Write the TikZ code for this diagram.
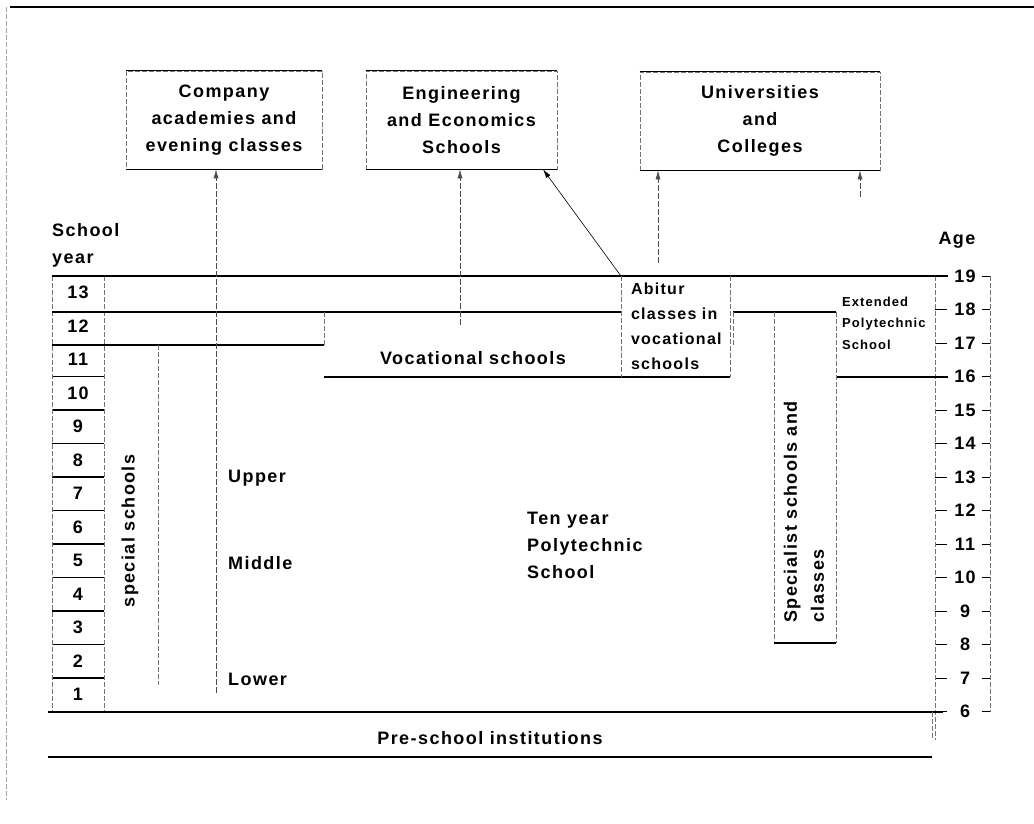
\documentclass[tikz,border=0pt]{standalone}
\usepackage{fontspec}
\setmainfont{Liberation Sans}[LetterSpace=8]
\usetikzlibrary{arrows.meta}

\begin{document}
\begin{tikzpicture}[x=1pt,y=-1pt,>={Latex[length=9pt,width=5pt]},
		every node/.style={font=\bfseries\fontsize{18}{27}\selectfont,inner sep=0pt},
		heavy/.style={line width=1.5pt},
		faint/.style={draw=black!55,line width=0.6pt,dash pattern=on 5pt off 2pt},
		flow/.style={->,draw=black!70,line width=0.6pt,dash pattern=on 6pt off 2pt},
		tick/.style={line width=0.9pt},
		inst/.style={draw=black!55,line width=0.6pt,dash pattern=on 5pt off 2pt,align=center,minimum height=98pt},
		small/.style={font=\bfseries\fontsize{13}{21.5}\selectfont}]
		\useasboundingbox (0,0) rectangle (1034,823);
		
		% page frame
		\draw[heavy] (10,7) -- (1034,7);
		\draw[faint,draw=black!35] (6,7) -- (6,800);
		
		% institutions at the top
		\node[inst,minimum width=196pt] (comp) at (224,120) {Company\\academies and\\evening classes};
		\node[inst,minimum width=191pt] (eng)  at (461.5,120) {Engineering\\and Economics\\Schools};
		\node[inst,minimum width=240pt] (uni)  at (760,121) {Universities\\and\\Colleges};
		\foreach \b in {comp,eng,uni}
		\draw[heavy] (\b.north west) -- (\b.north east) (\b.south west) -- (\b.south east);
		
		% axis captions
		\node[anchor=west,align=left] (schoolyear) at (52,245) {School\\year};
		\node (age) at (957,240) {Age};
		
		% school years
		\foreach \n in {1,...,13}
		\node (yr\n) at (78,{292.75+(13-\n)*33.5}) {\n};
		\foreach \k in {3,...,12}
		\draw[heavy] (52,{276+\k*33.5}) -- (104,{276+\k*33.5});
		\draw[faint] (52,276) -- (52,712) (104,276) -- (104,712);
		
		% ages
		\foreach \a in {6,...,19}{
			\node (age\a) at (965,{276+(19-\a)*33.5}) {\a};
			\draw[tick] (935,{276+(19-\a)*33.5}) -- (947,{276+(19-\a)*33.5})
			(982,{276+(19-\a)*33.5}) -- (990,{276+(19-\a)*33.5});
		}
		\draw[faint] (935,276) -- (935,740) (990,276) -- (990,711.5);
		
		% main horizontal limits
		\draw[heavy] (52,276) -- (948,276);
		\draw[heavy] (52,312) -- (621,312) (733,312) -- (836,312);
		\draw[heavy] (52,345) -- (324,345);
		\draw[heavy] (324,377) -- (730,377) (836,377) -- (948,377);
		\draw[heavy] (48,712) -- (943,712);
		\draw[heavy] (48,757) -- (932,757);
		\draw[faint] (324,312) -- (324,345) (733,312) -- (733,345);
		\draw[faint] (932,712) -- (932,740);
		
		% Abitur classes
		\node[align=left,text width=89pt,inner xsep=10pt,minimum height=101pt,
		font=\bfseries\fontsize{16}{25}\selectfont] (abitur) at (675.5,326.5)
		{Abitur\\classes in\\vocational\\schools};
		\draw[faint] (abitur.north west) -- (abitur.south west) (abitur.north east) -- (abitur.south east);
		
		% specialist schools and extended school
		\draw[faint] (774,312) -- (774,643) (836,312) -- (836,643);
		\draw[heavy] (774,643) -- (836,643);
		\node[rotate=90,anchor=west,align=left] (specialist) at (804,623) {Specialist schools and\\classes};
		\node[small,anchor=west,align=left] (extpoly) at (842,323) {Extended\\Polytechnic\\School};
		
		% ten year school
		\draw[faint] (158,345) -- (158,685);
		\node[rotate=90] (special) at (130,531) {special schools};
		\node[anchor=west] (upper)  at (228,478) {Upper};
		\node[anchor=west] (middle) at (228,563) {Middle};
		\node[anchor=west] (lower)  at (228,679) {Lower};
		\node[anchor=west,align=left] (tenyear) at (527,545) {Ten year\\Polytechnic\\School};
		\node (voc) at (473,358) {Vocational schools};
		\node (preschool) at (490,738) {Pre-school institutions};
		
		% routes upward
		\coordinate (cfoot) at (216,693);
		\coordinate (efoot) at (460,325);
		\coordinate (etip)  at (543,0);
		\coordinate (ufoot) at (658,263);
		\coordinate (xfoot) at (860,197);
		\draw[flow] (cfoot) -- (cfoot |- comp.south);
		\draw[flow] (efoot) -- (efoot |- eng.south);
		\draw[->,line width=0.6pt] (abitur.north west) -- (etip |- eng.south);
		\draw[flow] (ufoot) -- (ufoot |- uni.south);
		\draw[flow] (xfoot) -- (xfoot |- uni.south);
\end{tikzpicture}
\end{document}
